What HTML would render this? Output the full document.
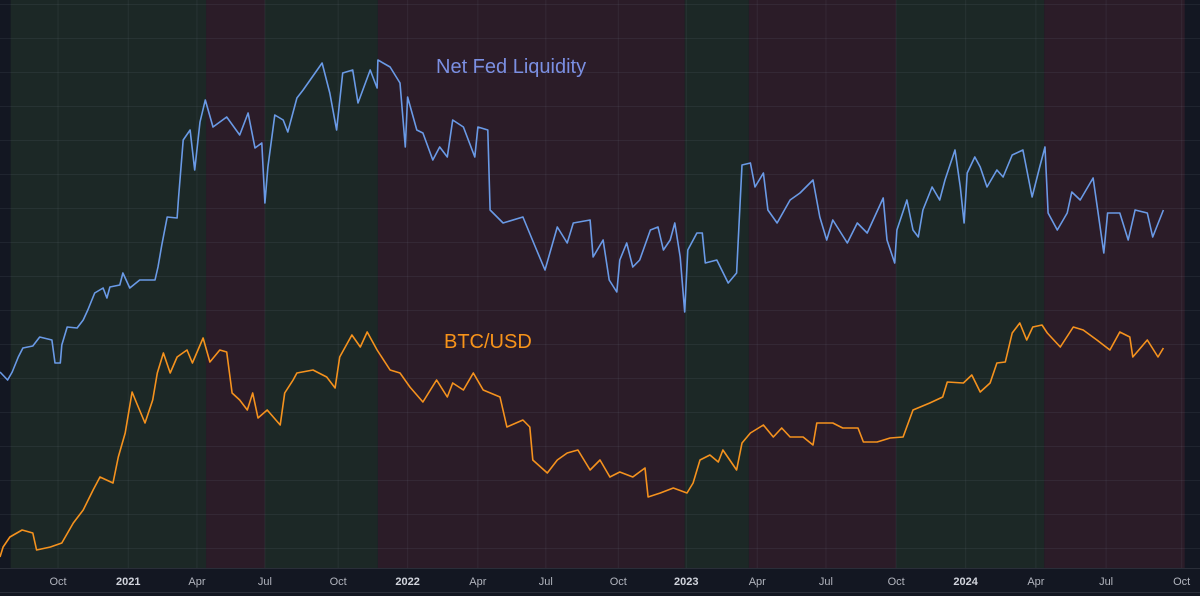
<!DOCTYPE html>
<html><head><meta charset="utf-8"><style>
html,body{margin:0;padding:0;background:#131722;}
svg{display:block;font-family:"Liberation Sans",sans-serif;}
</style></head><body>
<svg id="chart" width="1200" height="596" viewBox="0 0 1200 596" xmlns="http://www.w3.org/2000/svg">
<rect x="0" y="0" width="1200" height="596" fill="#131722"/>
<g id="bands"></g><g id="grid"></g><g id="series"></g><g id="axis"></g>
<text x="436" y="73" font-size="20" fill="#7b8fe2">Net Fed Liquidity</text>
<text x="444" y="348" font-size="20" fill="#f7931a">BTC/USD</text>
<line x1="0" y1="568.5" x2="1200" y2="568.5" stroke="#2a2e39"/>
<line x1="0" y1="592.5" x2="1200" y2="592.5" stroke="#2a2e39"/>
</svg>
<script>
// time unit: days since 2020-07-17
const bandStarts = [14, 270, 347, 495, 897, 981, 1174, 1368];
const bandEnds   = [270, 347, 495, 897, 981, 1174, 1368, 1552];
const bandTypes  = ["up","down","up","down","up","down","up","down"];
const tickDays   = [76,168,258,347,443,534,626,715,810,899,992,1082,1174,1265,1357,1449,1548];
const tickLabels = ["Oct","2021","Apr","Jul","Oct","2022","Apr","Jul","Oct","2023","Apr","Jul","Oct","2024","Apr","Jul","Oct"];
const liqDays = [0,10,16,24,30,43,52,68,72,79,81,88,101,109,115,124,135,140,144,157,161,170,183,203,207,212,219,232,234,240,249,255,262,269,279,297,314,325,334,343,347,351,360,371,377,389,397,422,432,441,449,462,469,485,494,495,511,524,531,534,546,554,567,576,586,593,607,622,626,639,642,659,685,703,714,730,743,751,773,777,790,798,808,812,821,829,838,852,862,869,878,884,891,897,901,913,920,924,939,954,965,972,983,989,1000,1006,1018,1035,1048,1065,1074,1083,1091,1110,1123,1136,1157,1162,1172,1175,1188,1196,1203,1209,1221,1231,1238,1251,1258,1263,1267,1277,1284,1293,1306,1314,1326,1340,1352,1362,1369,1373,1385,1398,1404,1415,1432,1438,1446,1451,1467,1478,1487,1503,1510,1524];
const liqValues = [196,188,196,211,220,222,231,228,205,205,223,241,240,248,258,275,280,270,281,283,295,280,288,288,301,323,351,350,371,428,438,398,446,468,441,451,433,455,420,425,365,401,453,448,436,470,478,505,475,438,495,498,465,498,480,508,501,485,421,471,438,435,408,421,411,448,441,411,441,438,358,345,351,318,298,341,325,345,348,311,328,288,276,308,325,301,308,338,341,318,328,345,311,256,318,335,335,305,308,285,295,403,405,381,395,358,345,368,375,388,351,328,348,325,345,335,370,328,305,338,368,338,331,358,381,368,388,418,381,345,395,411,401,381,398,391,413,418,371,401,421,355,338,355,376,368,390,358,315,355,355,328,358,355,331,358];
const btcDays = [0,4,13,29,43,48,66,81,96,109,122,131,148,155,164,173,179,190,200,206,214,223,232,245,252,266,275,288,297,304,314,324,331,338,350,367,373,384,389,410,428,439,445,461,472,481,494,511,524,537,554,572,586,593,607,620,633,655,664,685,694,698,717,730,743,757,773,786,799,812,829,845,849,865,882,900,908,917,930,941,947,965,972,983,1000,1013,1024,1035,1052,1065,1070,1091,1104,1124,1131,1149,1166,1183,1196,1218,1235,1241,1262,1273,1284,1297,1306,1317,1326,1336,1345,1353,1365,1372,1389,1406,1419,1437,1454,1467,1480,1484,1503,1517,1524];
const btcValues = [11,21,31,38,35,18,21,25,45,58,78,91,85,111,135,176,165,145,168,195,215,195,211,218,205,230,206,218,216,175,168,158,175,150,158,143,175,188,195,198,191,180,211,233,221,236,218,198,195,181,166,188,171,185,178,195,178,171,141,148,141,108,95,108,115,118,98,108,91,96,91,100,71,75,80,75,85,108,113,106,118,98,125,135,143,131,140,131,131,123,145,145,140,140,126,126,130,131,158,165,171,186,185,193,176,185,205,206,235,245,228,241,243,235,221,241,238,228,218,236,231,211,228,211,220];

const NS="http://www.w3.org/2000/svg";
const xS = d => d / 1.31;
const yS = v => 568 - v;
function mk(tag, parent){const e=document.createElementNS(NS,tag);parent.appendChild(e);return e;}

const bands=document.getElementById('bands');
for(let i=0;i<bandStarts.length;i++){
  const r=mk('rect',bands);
  
  
  r.setAttribute('x',xS(bandStarts[i]));r.setAttribute('y',0);
  r.setAttribute('width',xS(bandEnds[i])-xS(bandStarts[i]));r.setAttribute('height',568);
  r.setAttribute('fill',bandTypes[i]==='up'?'#1c2826':'#2b1c28');
}
const grid=document.getElementById('grid');
for(let y=4;y<568;y+=34){
  const l=mk('line',grid);
  
  
  l.setAttribute('x1',0);l.setAttribute('x2',1200);l.setAttribute('y1',y+0.5);l.setAttribute('y2',y+0.5);
  l.setAttribute('stroke','rgba(120,130,150,0.12)');
}
const axis=document.getElementById('axis');
tickDays.forEach((d,i)=>{
  const l=mk('line',grid);
  
  
  l.setAttribute('x1',xS(d));l.setAttribute('x2',xS(d));l.setAttribute('y1',0);l.setAttribute('y2',568);
  l.setAttribute('stroke','rgba(120,130,150,0.12)');
  const t=mk('text',axis);
  
  
  t.setAttribute('x',xS(d));t.setAttribute('y',585);t.setAttribute('text-anchor','middle');
  t.setAttribute('font-size','11');
  const yr=/^\d{4}$/.test(tickLabels[i]);
  t.setAttribute('fill',yr?'#d1d4dc':'#b2b5be');
  if(yr)t.setAttribute('font-weight','bold');
  t.textContent=tickLabels[i];
});
const series=document.getElementById('series');
function line(days,vals,color,name){
  const p=mk('path',series);
  
  
  p.setAttribute('d',days.map((d,i)=>(i?'L':'M')+xS(d).toFixed(1)+' '+yS(vals[i]).toFixed(1)).join(' '));
  p.setAttribute('fill','none');p.setAttribute('stroke',color);p.setAttribute('stroke-width','1.6');
  p.setAttribute('stroke-linejoin','round');
}
line(liqDays,liqValues,'#6a9ae6','net-fed-liquidity-line');
line(btcDays,btcValues,'#f5921e','btc-usd-line');
</script>
</body></html>
